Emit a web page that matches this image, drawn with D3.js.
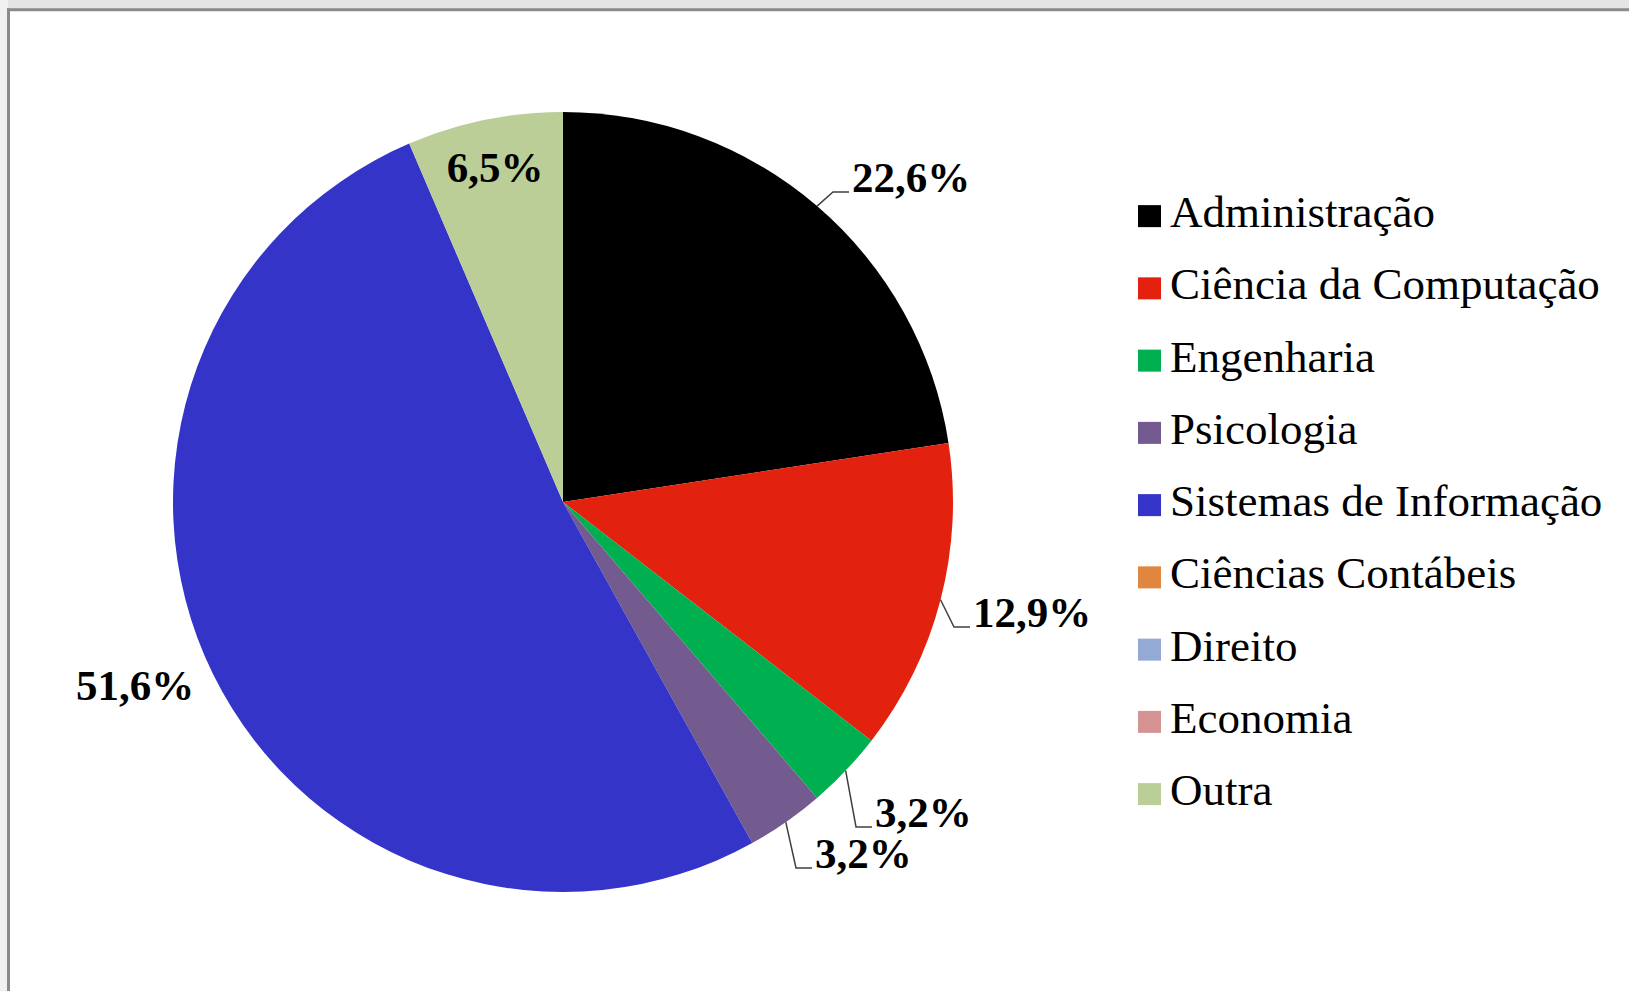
<!DOCTYPE html>
<html>
<head>
<meta charset="utf-8">
<script src="https://cdn.jsdelivr.net/npm/d3@7"></script>
<style>
  html, body { margin: 0; padding: 0; background: #e4e4e4; overflow: hidden; }
  svg { display: block; }
</style>
</head>
<body>
<svg id="chart" width="1629" height="991"></svg>
<script>
// ---- data ----
const categories = ["Administração", "Ciência da Computação", "Engenharia", "Psicologia",
  "Sistemas de Informação", "Ciências Contábeis", "Direito", "Economia", "Outra"];
const counts = [7, 4, 1, 1, 16, 0, 0, 0, 2];
const labels = ["22,6%", "12,9%", "3,2%", "3,2%", "51,6%", "", "", "", "6,5%"];
const colors = ["#000000", "#e2210e", "#00b050", "#735a8f", "#3434c8", "#e0863f", "#94aad4", "#d69394", "#bbce98"];

// ---- layout ----
const W = 1629, H = 991;
const cx = 563, cy = 502, R = 390;
// label anchors relative to pie centre (layout only); leader = draw leader line
const labelLayout = [
  {dx: 289, dy: -310, anchor: "start", leader: true},
  {dx: 410, dy: 125, anchor: "start", leader: true},
  {dx: 312, dy: 325, anchor: "start", leader: true},
  {dx: 252, dy: 366, anchor: "start", leader: true},
  {dx: -428, dy: 198, anchor: "middle", leader: false},
  null, null, null,
  {dx: -68, dy: -320, anchor: "middle", leader: false}
];

const svg = d3.select("#chart");

// frame
svg.append("rect").attr("x", 0).attr("y", 0).attr("width", W).attr("height", H).attr("fill", "#e4e4e4");
svg.append("rect").attr("x", 0).attr("y", 0).attr("width", 8).attr("height", H).attr("fill", "#f1f1f1");
svg.append("rect").attr("x", 10).attr("y", 11).attr("width", W).attr("height", H).attr("fill", "#ffffff");
svg.append("line").attr("x1", 8.5).attr("x2", 8.5).attr("y1", 8.5).attr("y2", H).attr("stroke", "#8a8a8a").attr("stroke-width", 3);
svg.append("line").attr("x1", 7).attr("x2", W).attr("y1", 9.8).attr("y2", 9.8).attr("stroke", "#8a8a8a").attr("stroke-width", 3);

const data = categories.map((c, i) => ({cat: c, v: counts[i], label: labels[i], color: colors[i], i}));

const pie = d3.pie().value(d => d.v).sort(null);
const arcs = pie(data);
const arc = d3.arc().innerRadius(0).outerRadius(R);

const g = svg.append("g").attr("transform", `translate(${cx},${cy})`);
g.selectAll("path.slice").data(arcs.filter(a => a.data.v > 0)).join("path")
  .attr("class", "slice")
  .attr("d", arc)
  .attr("fill", d => d.data.color);

// labels
const fontSerif = "'Liberation Serif', 'Times New Roman', serif";
arcs.forEach(a => {
  const L = labelLayout[a.data.i];
  if (!L || a.data.v === 0) return;
  const mid = (a.startAngle + a.endAngle) / 2;
  if (L.leader) {
    const sx = Math.sin(mid) * R, sy = -Math.cos(mid) * R;
    const ex = L.dx - 19, ey = L.dy;
    g.append("polyline")
      .attr("points", `${sx},${sy} ${ex},${ey} ${L.dx - 3},${ey}`)
      .attr("fill", "none").attr("stroke", "#404040").attr("stroke-width", 1.5);
  }
  g.append("text")
    .attr("x", L.dx).attr("y", L.dy)
    .attr("text-anchor", L.anchor)
    .attr("font-family", fontSerif)
    .attr("font-weight", "bold")
    .attr("font-size", 43)
    .attr("fill", "#000")
    .text(a.data.label);
});

// legend
const legY = d3.scaleBand().domain(categories).range([180, 180 + 72.25 * 9]);
const leg = svg.append("g");
const rows = leg.selectAll("g.row").data(data).join("g")
  .attr("class", "row")
  .attr("transform", d => `translate(1138, ${legY(d.cat) + legY.bandwidth() / 2})`);
rows.append("rect").attr("x", 0).attr("y", -11).attr("width", 23).attr("height", 22).attr("fill", d => d.color);
rows.append("text")
  .attr("x", 32).attr("y", 11)
  .attr("font-family", fontSerif)
  .attr("font-size", 45)
  .attr("fill", "#000")
  .text(d => d.cat);
</script>
</body>
</html>
